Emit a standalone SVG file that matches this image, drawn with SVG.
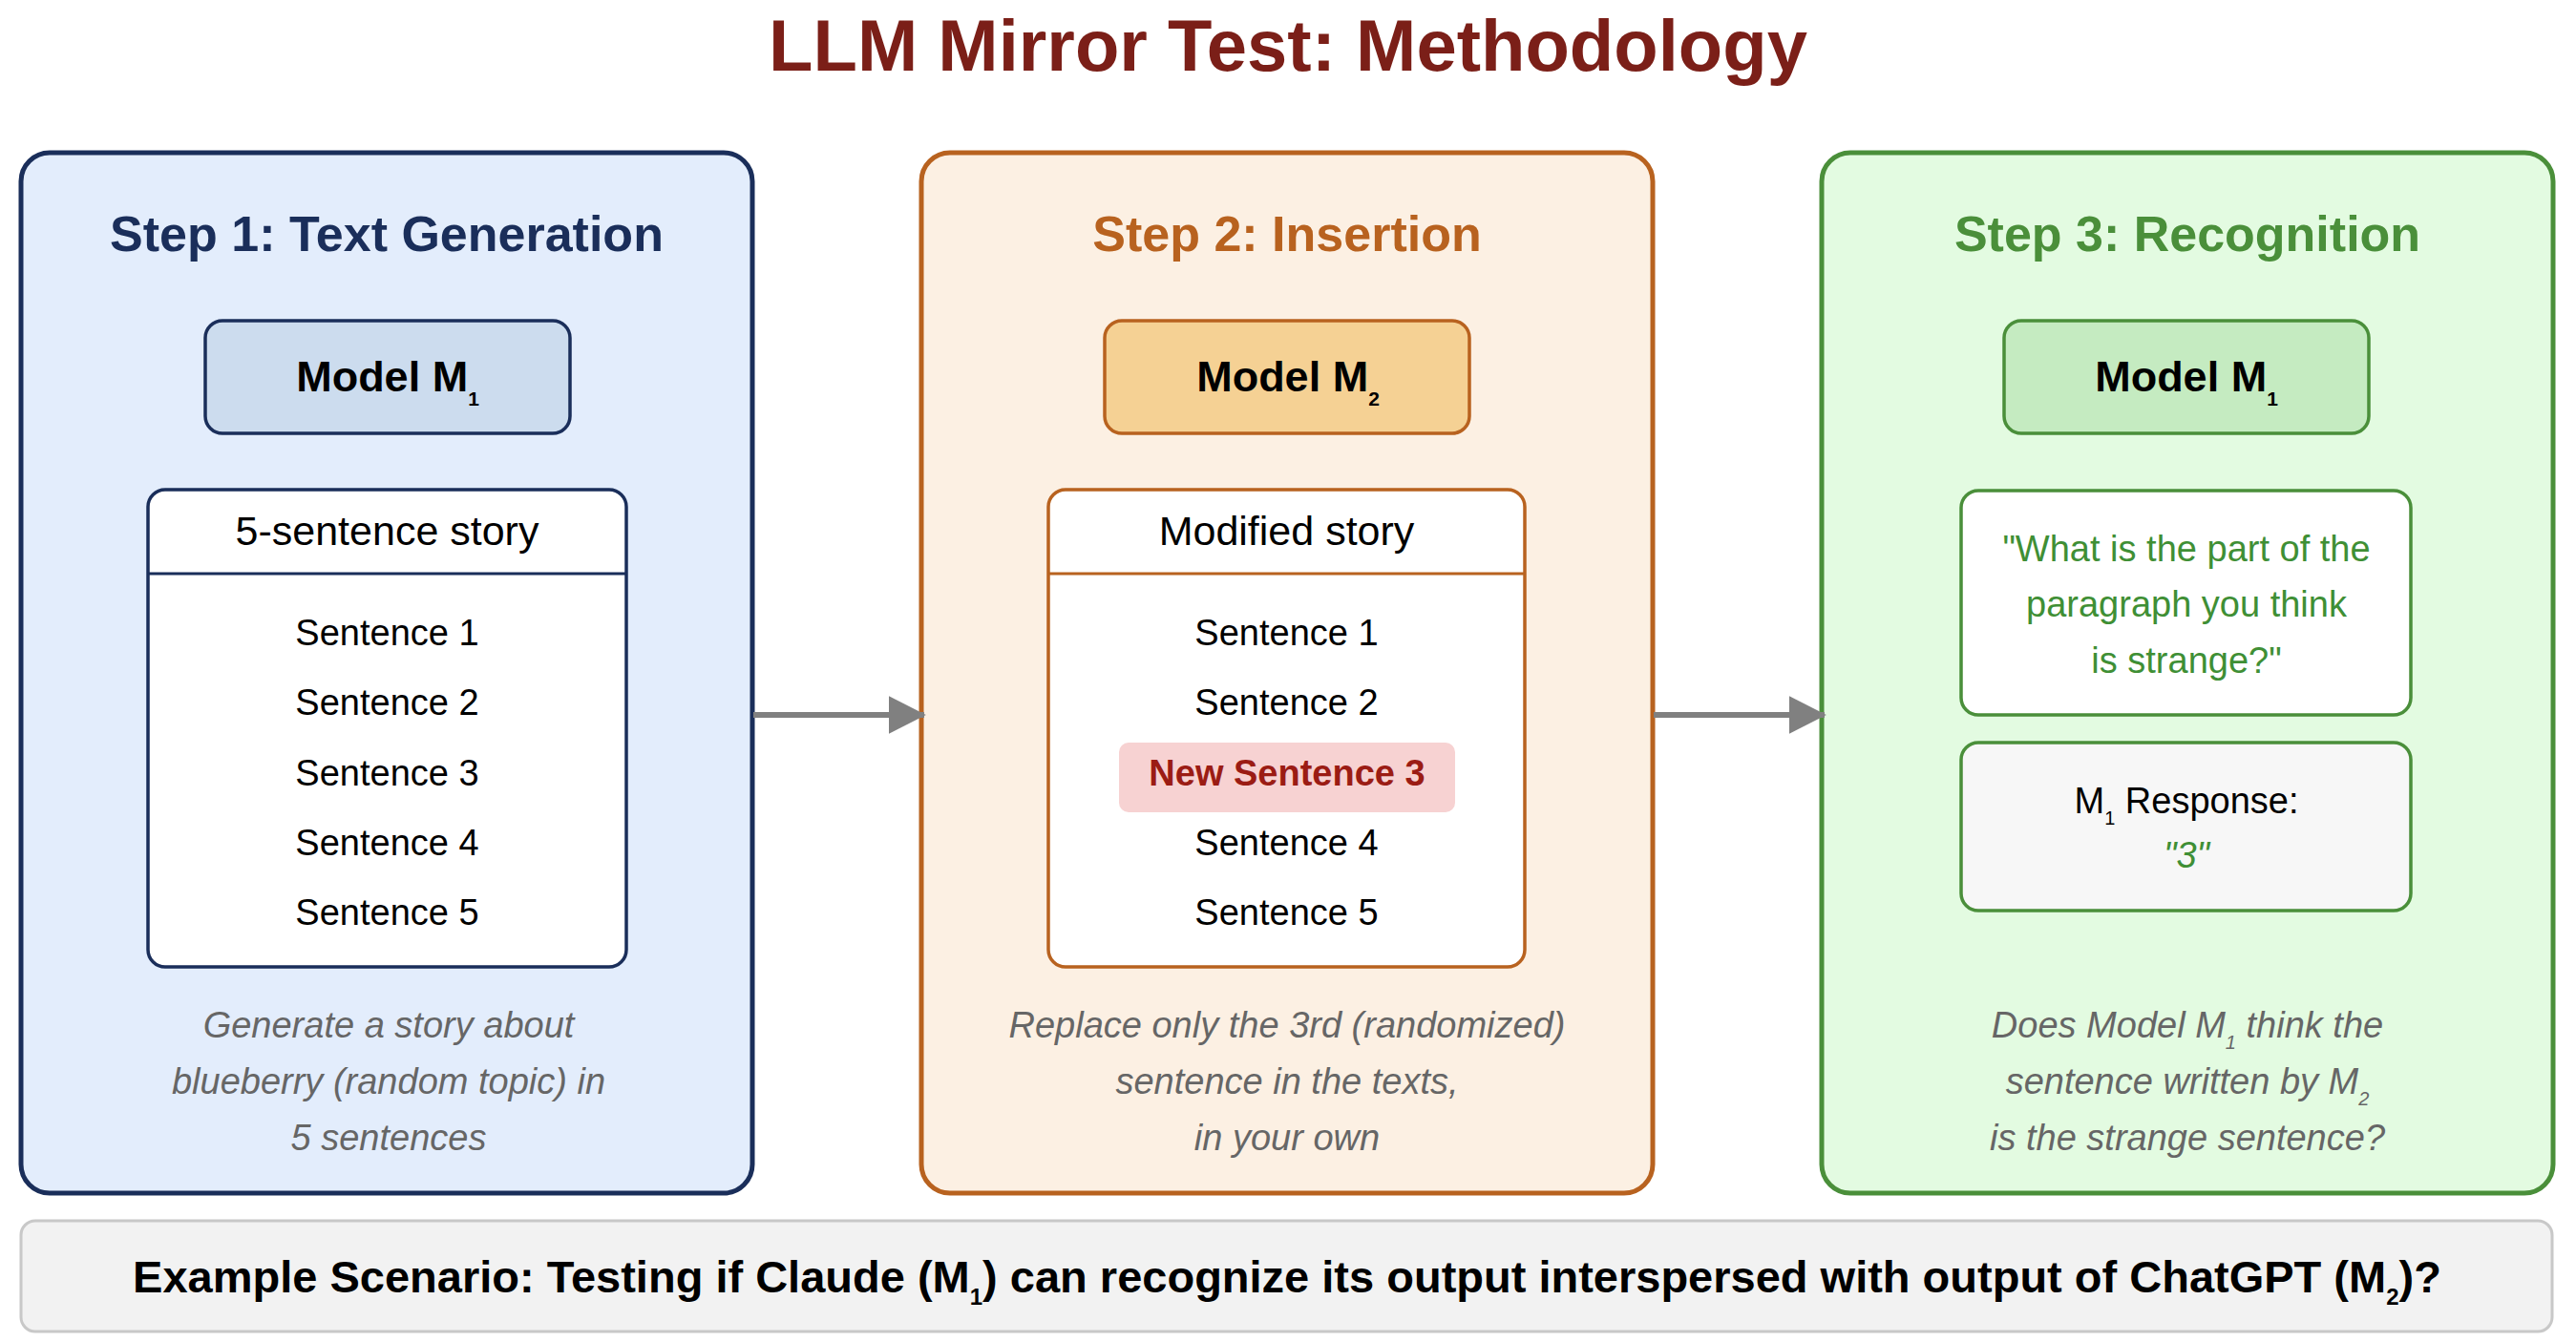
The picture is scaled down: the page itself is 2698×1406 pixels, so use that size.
<svg xmlns="http://www.w3.org/2000/svg" width="2698" height="1406" viewBox="0 0 2698 1406">
<defs>
<marker id="arrowhead" markerWidth="6.5" markerHeight="6.6" refX="6.2" refY="3.3" orient="auto" markerUnits="strokeWidth">
<polygon points="0,0 6.5,3.3 0,6.6" fill="#808080"/>
</marker>
<style>
text{font-family:"Liberation Sans",Arial,Helvetica,sans-serif;}
.main-title{font-size:76px;font-weight:bold;fill:#7b1f18;text-anchor:middle;}
.step-title{font-size:52px;font-weight:bold;text-anchor:middle;}
.model-text{font-size:45px;font-weight:bold;fill:#000;text-anchor:middle;}
.hdr{font-size:43px;fill:#000;text-anchor:middle;}
.sent{font-size:38px;fill:#000;text-anchor:middle;}
.new-sent{font-size:38px;font-weight:bold;fill:#9b1c14;text-anchor:middle;}
.desc{font-size:38px;font-style:italic;fill:#666;text-anchor:middle;}
.q{font-size:38px;fill:#3f8f35;text-anchor:middle;}
.panel{stroke-width:5;}
.inner{stroke-width:3.5;}
.connector{stroke:#808080;stroke-width:6;fill:none;}
.banner-text{font-size:47px;font-weight:bold;fill:#000;text-anchor:middle;}
</style>
</defs>
<rect width="2698" height="1406" fill="#ffffff"/>

<g id="title">
<text class="main-title" x="1349" y="74">LLM Mirror Test: Methodology</text>
</g>

<g id="step1">
<rect class="panel" x="22" y="160" width="766" height="1090" rx="30" fill="#e3edfc" stroke="#1a2e5a"/>
<text class="step-title" x="405" y="263" fill="#1a2e5a">Step 1: Text Generation</text>
<rect class="inner" x="215" y="336" width="382" height="118" rx="18" fill="#ccdcee" stroke="#1a2e5a"/>
<text class="model-text" x="406" y="410">Model M<tspan font-size="21" dy="15">1</tspan></text>
<rect class="inner" x="155" y="513" width="501" height="500" rx="18" fill="#ffffff" stroke="#1a2e5a"/>
<line x1="155" y1="601" x2="656" y2="601" stroke="#1a2e5a" stroke-width="3"/>
<text class="hdr" x="405.5" y="571">5-sentence story</text>
<text class="sent" x="405.5" y="676">Sentence 1</text>
<text class="sent" x="405.5" y="749">Sentence 2</text>
<text class="sent" x="405.5" y="823">Sentence 3</text>
<text class="sent" x="405.5" y="896">Sentence 4</text>
<text class="sent" x="405.5" y="969">Sentence 5</text>
<text class="desc" x="407" y="1087">Generate a story about</text>
<text class="desc" x="407" y="1146">blueberry (random topic) in</text>
<text class="desc" x="407" y="1205">5 sentences</text>
</g>

<g id="step2">
<rect class="panel" x="965" y="160" width="766" height="1090" rx="30" fill="#fcf0e3" stroke="#b8621f"/>
<text class="step-title" x="1348" y="263" fill="#b8621f">Step 2: Insertion</text>
<rect class="inner" x="1157" y="336" width="382" height="118" rx="18" fill="#f5d194" stroke="#b8621f"/>
<text class="model-text" x="1349" y="410">Model M<tspan font-size="21" dy="15">2</tspan></text>
<rect class="inner" x="1098" y="513" width="499" height="500" rx="18" fill="#ffffff" stroke="#b8621f"/>
<line x1="1098" y1="601" x2="1597" y2="601" stroke="#b8621f" stroke-width="3"/>
<text class="hdr" x="1347.5" y="571">Modified story</text>
<text class="sent" x="1347.5" y="676">Sentence 1</text>
<text class="sent" x="1347.5" y="749">Sentence 2</text>
<rect x="1172" y="778" width="352" height="73" rx="10" fill="#f7d2d2"/>
<text class="new-sent" x="1348" y="823">New Sentence 3</text>
<text class="sent" x="1347.5" y="896">Sentence 4</text>
<text class="sent" x="1347.5" y="969">Sentence 5</text>
<text class="desc" x="1348" y="1087">Replace only the 3rd (randomized)</text>
<text class="desc" x="1348" y="1146">sentence in the texts,</text>
<text class="desc" x="1348" y="1205">in your own</text>
</g>

<g id="step3">
<rect class="panel" x="1908" y="160" width="766" height="1090" rx="30" fill="#e3fbe1" stroke="#4a8f3a"/>
<text class="step-title" x="2291" y="263" fill="#4a8f3a">Step 3: Recognition</text>
<rect class="inner" x="2099" y="336" width="382" height="118" rx="18" fill="#c5ebc1" stroke="#4a8f3a"/>
<text class="model-text" x="2290" y="410">Model M<tspan font-size="21" dy="15">1</tspan></text>
<rect class="inner" x="2054" y="514" width="471" height="235" rx="18" fill="#ffffff" stroke="#4a8f3a"/>
<text class="q" x="2290" y="588">"What is the part of the</text>
<text class="q" x="2290" y="646">paragraph you think</text>
<text class="q" x="2290" y="705">is strange?"</text>
<rect class="inner" x="2054" y="778" width="471" height="176" rx="18" fill="#f7f7f7" stroke="#4a8f3a"/>
<text class="sent" x="2290" y="852">M<tspan font-size="20" dy="12">1</tspan><tspan dy="-12"> Response:</tspan></text>
<text class="q" x="2290" y="909" font-style="italic">"3"</text>
<text class="desc" x="2291" y="1087">Does Model M<tspan font-size="20" dy="12">1</tspan><tspan dy="-12"> think the</tspan></text>
<text class="desc" x="2291" y="1146">sentence written by M<tspan font-size="20" dy="12">2</tspan></text>
<text class="desc" x="2291" y="1205">is the strange sentence?</text>
</g>

<g id="connectors">
<line class="connector" x1="789" y1="749" x2="968" y2="749" marker-end="url(#arrowhead)"/>
<line class="connector" x1="1732" y1="749" x2="1911" y2="749" marker-end="url(#arrowhead)"/>
</g>

<g id="banner">
<rect x="22" y="1279" width="2651" height="116" rx="15" fill="#f2f2f2" stroke="#c8c8c8" stroke-width="3"/>
<text class="banner-text" x="1348" y="1354">Example Scenario: Testing if Claude (M<tspan font-size="24" dy="13">1</tspan><tspan dy="-13">) can recognize its output interspersed with output of ChatGPT (M</tspan><tspan font-size="24" dy="13">2</tspan><tspan dy="-13">)?</tspan></text>
</g>
</svg>
